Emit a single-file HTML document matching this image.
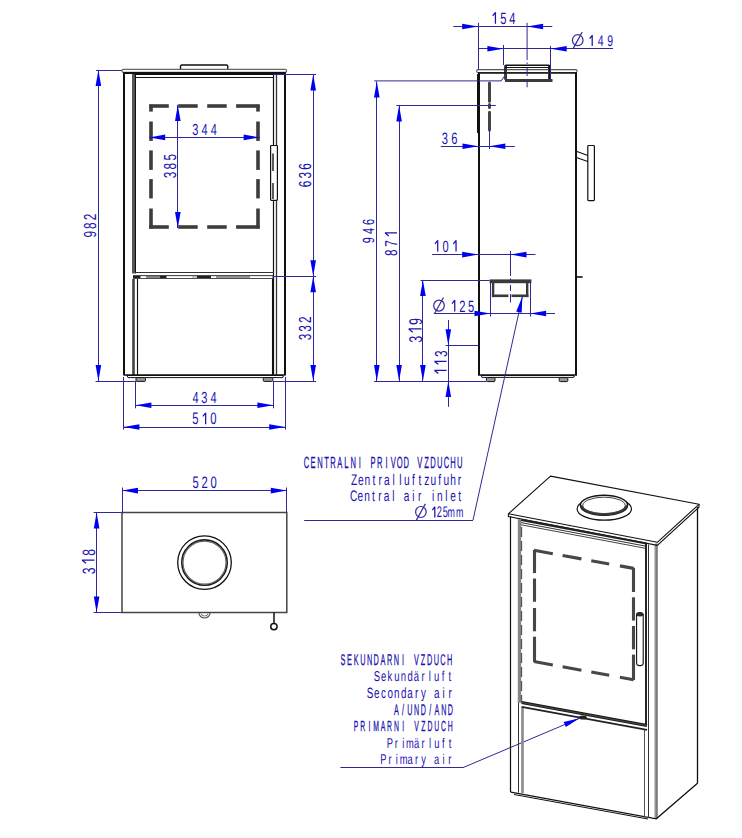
<!DOCTYPE html>
<html><head><meta charset="utf-8"><style>
html,body{margin:0;padding:0;background:#fff;overflow:hidden;width:742px;height:838px;}
svg{display:block;}
text{font-family:"Liberation Sans",sans-serif;}
</style></head><body>
<svg width="742" height="838" viewBox="0 0 742 838">
<rect width="742" height="838" fill="#fff"/>
<path d="M180.5,70.5 L180.5,66.5 Q180.5,65 182,65 L226.3,65 Q227.8,65 227.8,66.5 L227.8,70.5" fill="white" stroke="#111" stroke-width="1.4"/>
<rect x="122" y="69.4" width="164.6" height="3" rx="1.4" fill="white" stroke="#666" stroke-width="1.2"/>
<line x1="123.50" y1="73.00" x2="285.50" y2="73.00" stroke="#111" stroke-width="2" />
<line x1="124.00" y1="72.50" x2="124.00" y2="375.00" stroke="#111" stroke-width="2" />
<line x1="285.00" y1="72.50" x2="285.00" y2="375.00" stroke="#111" stroke-width="2" />
<line x1="133.50" y1="74.00" x2="133.50" y2="273.50" stroke="#555" stroke-width="3.0" />
<line x1="135.50" y1="74.00" x2="135.50" y2="273.50" stroke="#111" stroke-width="1.0" />
<line x1="133.50" y1="279.00" x2="133.50" y2="375.00" stroke="#444" stroke-width="2.6" />
<line x1="134.50" y1="74.00" x2="274.00" y2="74.00" stroke="#111" stroke-width="1.8" />
<line x1="135.50" y1="77.50" x2="273.20" y2="77.50" stroke="#111" stroke-width="1.1" />
<line x1="273.50" y1="74.00" x2="273.50" y2="375.00" stroke="#111" stroke-width="1.2" />
<line x1="276.50" y1="74.00" x2="276.50" y2="375.00" stroke="#333" stroke-width="1.3" />
<line x1="135.00" y1="272.50" x2="274.00" y2="272.50" stroke="#333" stroke-width="1.1" />
<rect x="133" y="275.2" width="140.5" height="3.6" fill="#222"/>
<rect x="140.5" y="276.1" width="5.5" height="1.9" fill="#fff"/>
<rect x="146" y="276.1" width="14" height="1.9" fill="#888"/>
<rect x="166.5" y="276.1" width="25.5" height="1.9" fill="#fff"/>
<rect x="192" y="276.1" width="5" height="1.9" fill="#ccc"/>
<rect x="211" y="276.1" width="5" height="1.9" fill="#fff"/>
<rect x="216" y="276.1" width="34" height="1.9" fill="#999"/>
<rect x="250" y="276.1" width="22.5" height="1.9" fill="#fff"/>
<line x1="137.50" y1="279.00" x2="137.50" y2="375.00" stroke="#111" stroke-width="1.1" />
<line x1="272.50" y1="279.00" x2="272.50" y2="375.00" stroke="#111" stroke-width="1.1" />
<line x1="123.50" y1="375.00" x2="285.50" y2="375.00" stroke="#111" stroke-width="1.6" />
<path d="M127,375.5 L283,375.5 Q284,377.6 282,377.6 L128,377.6 Z" fill="white" stroke="#111" stroke-width="1"/>
<rect x="136" y="377.6" width="9.5" height="3.8" rx="1" fill="#999" stroke="#111" stroke-width="1"/>
<rect x="263.3" y="377.6" width="9.5" height="3.8" rx="1" fill="#999" stroke="#111" stroke-width="1"/>
<rect x="270.6" y="145.5" width="6.8" height="54.8" fill="white" stroke="#111" stroke-width="1.2" rx="0.8"/>
<line x1="273.00" y1="153.50" x2="273.00" y2="171.00" stroke="#333" stroke-width="1.6" />
<line x1="273.00" y1="183.00" x2="273.00" y2="199.00" stroke="#333" stroke-width="1.6" />
<line x1="149.10" y1="106.00" x2="168.80" y2="106.00" stroke="#3c3c3c" stroke-width="3.6" />
<line x1="149.10" y1="227.00" x2="168.80" y2="227.00" stroke="#3c3c3c" stroke-width="3.6" />
<line x1="178.20" y1="106.00" x2="197.70" y2="106.00" stroke="#3c3c3c" stroke-width="3.6" />
<line x1="178.20" y1="227.00" x2="197.70" y2="227.00" stroke="#3c3c3c" stroke-width="3.6" />
<line x1="207.20" y1="106.00" x2="226.70" y2="106.00" stroke="#3c3c3c" stroke-width="3.6" />
<line x1="207.20" y1="227.00" x2="226.70" y2="227.00" stroke="#3c3c3c" stroke-width="3.6" />
<line x1="236.10" y1="106.00" x2="259.60" y2="106.00" stroke="#3c3c3c" stroke-width="3.6" />
<line x1="236.10" y1="227.00" x2="259.60" y2="227.00" stroke="#3c3c3c" stroke-width="3.6" />
<line x1="151.00" y1="104.80" x2="151.00" y2="111.60" stroke="#3c3c3c" stroke-width="3.6" />
<line x1="258.00" y1="104.80" x2="258.00" y2="111.60" stroke="#3c3c3c" stroke-width="3.6" />
<line x1="151.00" y1="121.50" x2="151.00" y2="140.90" stroke="#3c3c3c" stroke-width="3.6" />
<line x1="258.00" y1="121.50" x2="258.00" y2="140.90" stroke="#3c3c3c" stroke-width="3.6" />
<line x1="151.00" y1="150.40" x2="151.00" y2="169.90" stroke="#3c3c3c" stroke-width="3.6" />
<line x1="258.00" y1="150.40" x2="258.00" y2="169.90" stroke="#3c3c3c" stroke-width="3.6" />
<line x1="151.00" y1="179.10" x2="151.00" y2="198.40" stroke="#3c3c3c" stroke-width="3.6" />
<line x1="258.00" y1="179.10" x2="258.00" y2="198.40" stroke="#3c3c3c" stroke-width="3.6" />
<line x1="151.00" y1="208.50" x2="151.00" y2="228.40" stroke="#3c3c3c" stroke-width="3.6" />
<line x1="258.00" y1="208.50" x2="258.00" y2="228.40" stroke="#3c3c3c" stroke-width="3.6" />
<line x1="98.50" y1="70.00" x2="98.50" y2="381.00" stroke="#30289a" stroke-width="1.0" />
<polygon points="98.40,70.00 101.20,86.00 95.60,86.00" fill="#0000f0"/>
<polygon points="98.40,381.00 95.60,365.00 101.20,365.00" fill="#0000f0"/>
<line x1="96.00" y1="70.50" x2="122.00" y2="70.50" stroke="#30289a" stroke-width="1.0" />
<line x1="95.50" y1="381.50" x2="136.00" y2="381.50" stroke="#30289a" stroke-width="1.0" />
<text transform="translate(96.10,236.90) rotate(-90) scale(0.6800,1)" x="-0.78 11.78 24.43" y="0" font-size="17.43" fill="#1a12b0" stroke="#1a12b0" stroke-width="0.00" vector-effect="non-scaling-stroke" text-rendering="geometricPrecision">982</text>
<line x1="313.50" y1="74.60" x2="313.50" y2="381.00" stroke="#30289a" stroke-width="1.0" />
<polygon points="313.20,74.60 316.00,90.60 310.40,90.60" fill="#0000f0"/>
<polygon points="313.20,276.30 310.40,260.30 316.00,260.30" fill="#0000f0"/>
<polygon points="313.20,276.30 316.00,292.30 310.40,292.30" fill="#0000f0"/>
<polygon points="313.20,381.00 310.40,365.00 316.00,365.00" fill="#0000f0"/>
<line x1="273.50" y1="74.50" x2="316.20" y2="74.50" stroke="#30289a" stroke-width="1.0" />
<line x1="273.00" y1="276.50" x2="316.20" y2="276.50" stroke="#30289a" stroke-width="1.0" />
<line x1="273.00" y1="381.50" x2="316.20" y2="381.50" stroke="#30289a" stroke-width="1.0" />
<text transform="translate(311.00,186.60) rotate(-90) scale(0.6800,1)" x="-0.87 12.00 24.70" y="0" font-size="17.43" fill="#1a12b0" stroke="#1a12b0" stroke-width="0.00" vector-effect="non-scaling-stroke" text-rendering="geometricPrecision">636</text>
<text transform="translate(310.90,339.90) rotate(-90) scale(0.6800,1)" x="-0.70 12.09 24.88" y="0" font-size="17.43" fill="#1a12b0" stroke="#1a12b0" stroke-width="0.00" vector-effect="non-scaling-stroke" text-rendering="geometricPrecision">332</text>
<line x1="135.40" y1="405.50" x2="273.40" y2="405.50" stroke="#30289a" stroke-width="1.0" />
<polygon points="135.40,405.30 151.40,402.50 151.40,408.10" fill="#0000f0"/>
<polygon points="273.40,405.30 257.40,408.10 257.40,402.50" fill="#0000f0"/>
<line x1="135.50" y1="381.00" x2="135.50" y2="408.30" stroke="#30289a" stroke-width="1.0" />
<line x1="273.50" y1="381.00" x2="273.50" y2="408.30" stroke="#30289a" stroke-width="1.0" />
<text transform="translate(0,402.60) scale(0.6800,1)" x="282.91 296.11 309.47" y="0" font-size="16.14" fill="#1a12b0" stroke="#1a12b0" stroke-width="0.00" vector-effect="non-scaling-stroke" text-rendering="geometricPrecision">434</text>
<line x1="123.40" y1="427.50" x2="285.20" y2="427.50" stroke="#30289a" stroke-width="1.0" />
<polygon points="123.40,427.00 139.40,424.20 139.40,429.80" fill="#0000f0"/>
<polygon points="285.20,427.00 269.20,429.80 269.20,424.20" fill="#0000f0"/>
<line x1="123.50" y1="377.00" x2="123.50" y2="429.60" stroke="#30289a" stroke-width="1.0" />
<line x1="285.50" y1="377.00" x2="285.50" y2="429.60" stroke="#30289a" stroke-width="1.0" />
<text transform="translate(0,424.30) scale(0.6800,1)" x="282.57 295.72 309.32" y="0" font-size="16.57" fill="#1a12b0" stroke="#1a12b0" stroke-width="0.00" vector-effect="non-scaling-stroke" text-rendering="geometricPrecision">5&#160;0</text>
<path transform="translate(0,424.30)" d="M205.65,0 V-11.60 M202.87,-7.89 L205.65,-11.40 " fill="none" stroke="#1a12b0" stroke-width="1.25" stroke-linejoin="round"/>
<line x1="149.20" y1="137.50" x2="259.60" y2="137.50" stroke="#30289a" stroke-width="1.0" />
<polygon points="149.20,137.40 165.20,134.60 165.20,140.20" fill="#0000f0"/>
<polygon points="259.60,137.40 243.60,140.20 243.60,134.60" fill="#0000f0"/>
<text transform="translate(0,134.90) scale(0.6800,1)" x="282.88 296.44 309.91" y="0" font-size="16.14" fill="#1a12b0" stroke="#1a12b0" stroke-width="0.00" vector-effect="non-scaling-stroke" text-rendering="geometricPrecision">344</text>
<line x1="177.50" y1="104.90" x2="177.50" y2="228.00" stroke="#30289a" stroke-width="1.0" />
<polygon points="177.80,104.90 180.60,120.90 175.00,120.90" fill="#0000f0"/>
<polygon points="177.80,228.00 175.00,212.00 180.60,212.00" fill="#0000f0"/>
<text transform="translate(175.90,177.90) rotate(-90) scale(0.6800,1)" x="-0.70 12.47 25.73" y="0" font-size="17.43" fill="#1a12b0" stroke="#1a12b0" stroke-width="0.00" vector-effect="non-scaling-stroke" text-rendering="geometricPrecision">385</text>
<rect x="476.6" y="69.6" width="100.6" height="2.9" rx="1.4" fill="white" stroke="#555" stroke-width="1.1"/>
<line x1="478.00" y1="73.00" x2="577.00" y2="73.00" stroke="#111" stroke-width="1.6" />
<rect x="505" y="65.2" width="44.6" height="14.6" fill="none" stroke="#111" stroke-width="1.6" rx="1"/>
<line x1="506.50" y1="66.00" x2="506.50" y2="80.00" stroke="#333" stroke-width="1" />
<line x1="548.50" y1="66.00" x2="548.50" y2="80.00" stroke="#333" stroke-width="1" />
<line x1="505.00" y1="67.50" x2="550.00" y2="67.50" stroke="#111" stroke-width="1" />
<line x1="505.00" y1="80.50" x2="552.50" y2="80.50" stroke="#3a3a3a" stroke-width="3" />
<line x1="479.00" y1="72.50" x2="479.00" y2="375.00" stroke="#111" stroke-width="2" />
<line x1="477.50" y1="74.00" x2="477.50" y2="133.00" stroke="#111" stroke-width="1" />
<line x1="576.00" y1="72.50" x2="576.00" y2="375.00" stroke="#111" stroke-width="2" />
<line x1="575.60" y1="277.00" x2="582.60" y2="277.00" stroke="#111" stroke-width="1.6" />
<line x1="478.00" y1="375.00" x2="577.00" y2="375.00" stroke="#111" stroke-width="1.6" />
<path d="M481,375.5 L574,375.5 Q575,377.4 573,377.4 L482,377.4 Z" fill="white" stroke="#111" stroke-width="1"/>
<rect x="486.4" y="377.6" width="8.6" height="4" rx="1" fill="#999" stroke="#111" stroke-width="1"/>
<rect x="559.2" y="377.6" width="8.6" height="4" rx="1" fill="#999" stroke="#111" stroke-width="1"/>
<line x1="489.50" y1="82.90" x2="489.50" y2="101.20" stroke="#444" stroke-width="3" stroke-linecap="round"/>
<line x1="489.50" y1="104.60" x2="489.50" y2="107.40" stroke="#444" stroke-width="3" stroke-linecap="round"/>
<line x1="489.50" y1="112.20" x2="489.50" y2="129.90" stroke="#444" stroke-width="3" stroke-linecap="round"/>
<rect x="587.8" y="145.5" width="6.6" height="55.1" fill="white" stroke="#111" stroke-width="1.2" rx="0.8"/>
<line x1="575.60" y1="151.00" x2="587.80" y2="155.60" stroke="#111" stroke-width="1.1" />
<line x1="575.60" y1="157.20" x2="587.80" y2="161.50" stroke="#111" stroke-width="1.1" />
<rect x="489.6" y="279.4" width="41.8" height="3.8" fill="#3a3a3a"/>
<rect x="491.9" y="283" width="2.4" height="14.1" fill="#3a3a3a"/>
<rect x="526" y="283" width="2.4" height="14.1" fill="#3a3a3a"/>
<rect x="491.9" y="294.5" width="16.5" height="2.6" fill="#3a3a3a"/>
<rect x="511.5" y="294.5" width="16.9" height="2.6" fill="#3a3a3a"/>
<path d="M510.5,250.8 V276 M510.5,278.5 V281 M510.5,285 V291 M510.5,294 V302.5" stroke="#30289a" stroke-width="1" fill="none"/>
<path d="M527.1,22.8 V60 M527.1,62.5 V64 M527.1,68 V76 M527.1,79 V87.3" stroke="#30289a" stroke-width="1" fill="none"/>
<line x1="453.30" y1="26.50" x2="552.30" y2="26.50" stroke="#30289a" stroke-width="1.0" />
<polygon points="478.20,26.50 462.20,29.30 462.20,23.70" fill="#0000f0"/>
<polygon points="527.10,26.50 543.10,23.70 543.10,29.30" fill="#0000f0"/>
<line x1="478.50" y1="22.80" x2="478.50" y2="69.50" stroke="#30289a" stroke-width="1.0" />
<text transform="translate(0,23.70) scale(0.6800,1)" x="721.96 735.57 749.02" y="0" font-size="16.43" fill="#1a12b0" stroke="#1a12b0" stroke-width="0.00" vector-effect="non-scaling-stroke" text-rendering="geometricPrecision">&#160;54</text>
<path transform="translate(0,23.70)" d="M495.44,0 V-11.50 M492.70,-7.82 L495.44,-11.30 " fill="none" stroke="#1a12b0" stroke-width="1.25" stroke-linejoin="round"/>
<line x1="478.20" y1="48.50" x2="613.00" y2="48.50" stroke="#30289a" stroke-width="1.0" />
<polygon points="503.40,48.70 487.40,51.50 487.40,45.90" fill="#0000f0"/>
<polygon points="550.70,48.70 566.70,45.90 566.70,51.50" fill="#0000f0"/>
<line x1="503.50" y1="45.00" x2="503.50" y2="65.00" stroke="#30289a" stroke-width="1.0" />
<line x1="550.50" y1="45.90" x2="550.50" y2="79.00" stroke="#30289a" stroke-width="1.0" />
<ellipse cx="577.75" cy="40.20" rx="5.3" ry="5.5" fill="none" stroke="#30289a" stroke-width="1.2"/>
<line x1="573.29" y1="48.36" x2="582.21" y2="32.04" stroke="#30289a" stroke-width="1.2" />
<text transform="translate(0,45.90) scale(0.6800,1)" x="864.73 879.14 893.16" y="0" font-size="15.43" fill="#1a12b0" stroke="#1a12b0" stroke-width="0.00" vector-effect="non-scaling-stroke" text-rendering="geometricPrecision">&#160;49</text>
<path transform="translate(0,45.90)" d="M592.21,0 V-10.80 M589.70,-7.34 L592.21,-10.60 " fill="none" stroke="#1a12b0" stroke-width="1.25" stroke-linejoin="round"/>
<line x1="376.50" y1="81.50" x2="376.50" y2="381.00" stroke="#30289a" stroke-width="1.0" />
<polygon points="376.80,81.50 379.60,97.50 374.00,97.50" fill="#0000f0"/>
<polygon points="376.80,381.00 374.00,365.00 379.60,365.00" fill="#0000f0"/>
<polyline points="374.2,80.9 501.2,80.9 504,76.5" fill="none" stroke="#30289a" stroke-width="1"/>
<text transform="translate(374.40,242.80) rotate(-90) scale(0.6800,1)" x="-0.73 12.81 26.10" y="0" font-size="16.14" fill="#1a12b0" stroke="#1a12b0" stroke-width="0.00" vector-effect="non-scaling-stroke" text-rendering="geometricPrecision">946</text>
<line x1="399.50" y1="105.40" x2="399.50" y2="381.00" stroke="#30289a" stroke-width="1.0" />
<polygon points="399.10,105.40 401.90,121.40 396.30,121.40" fill="#0000f0"/>
<polygon points="399.10,381.00 396.30,365.00 401.90,365.00" fill="#0000f0"/>
<line x1="396.40" y1="105.50" x2="495.80" y2="105.50" stroke="#30289a" stroke-width="1.0" />
<text transform="translate(397.00,255.60) rotate(-90) scale(0.6800,1)" x="-0.78 12.90 26.27" y="0" font-size="17.29" fill="#1a12b0" stroke="#1a12b0" stroke-width="0.00" vector-effect="non-scaling-stroke" text-rendering="geometricPrecision">87&#160;</text>
<path transform="translate(397.00,255.60) rotate(-90)" d="M22.65,0 V-12.10 M19.71,-8.23 L22.65,-11.90 " fill="none" stroke="#1a12b0" stroke-width="1.25" stroke-linejoin="round"/>
<line x1="440.80" y1="146.50" x2="514.90" y2="146.50" stroke="#30289a" stroke-width="1.0" />
<polygon points="478.50,146.20 462.50,149.00 462.50,143.40" fill="#0000f0"/>
<polygon points="489.30,146.20 505.30,143.40 505.30,149.00" fill="#0000f0"/>
<line x1="489.50" y1="130.20" x2="489.50" y2="149.00" stroke="#30289a" stroke-width="1.0" />
<text transform="translate(0,143.80) scale(0.6800,1)" x="649.49 663.60" y="0" font-size="16.43" fill="#1a12b0" stroke="#1a12b0" stroke-width="0.00" vector-effect="non-scaling-stroke" text-rendering="geometricPrecision">36</text>
<line x1="432.10" y1="254.50" x2="535.50" y2="254.50" stroke="#30289a" stroke-width="1.0" />
<polygon points="478.20,254.60 462.20,257.40 462.20,251.80" fill="#0000f0"/>
<polygon points="510.50,254.60 526.50,251.80 526.50,257.40" fill="#0000f0"/>
<text transform="translate(0,251.60) scale(0.6800,1)" x="637.12 650.81 664.09" y="0" font-size="16.29" fill="#1a12b0" stroke="#1a12b0" stroke-width="0.00" vector-effect="non-scaling-stroke" text-rendering="geometricPrecision">&#160;0&#160;</text>
<path transform="translate(0,251.60)" d="M437.71,0 V-11.40 M435.00,-7.75 L437.71,-11.20 M456.05,0 V-11.40 M453.34,-7.75 L456.05,-11.20 " fill="none" stroke="#1a12b0" stroke-width="1.25" stroke-linejoin="round"/>
<line x1="422.50" y1="280.10" x2="422.50" y2="381.00" stroke="#30289a" stroke-width="1.0" />
<polygon points="422.90,280.10 425.70,296.10 420.10,296.10" fill="#0000f0"/>
<polygon points="422.90,381.00 420.10,365.00 425.70,365.00" fill="#0000f0"/>
<line x1="420.50" y1="280.50" x2="489.50" y2="280.50" stroke="#30289a" stroke-width="1.0" />
<text transform="translate(421.50,342.30) rotate(-90) scale(0.6800,1)" x="-0.74 12.01 25.31" y="0" font-size="18.43" fill="#1a12b0" stroke="#1a12b0" stroke-width="0.00" vector-effect="non-scaling-stroke" text-rendering="geometricPrecision">3&#160;9</text>
<path transform="translate(421.50,342.30) rotate(-90)" d="M13.31,0 V-12.90 M10.10,-8.77 L13.31,-12.70 " fill="none" stroke="#1a12b0" stroke-width="1.25" stroke-linejoin="round"/>
<line x1="433.70" y1="313.50" x2="555.00" y2="313.50" stroke="#30289a" stroke-width="1.0" />
<polygon points="490.50,313.50 474.50,316.30 474.50,310.70" fill="#0000f0"/>
<polygon points="530.10,313.50 546.10,310.70 546.10,316.30" fill="#0000f0"/>
<line x1="490.50" y1="283.00" x2="490.50" y2="316.50" stroke="#30289a" stroke-width="1.0" />
<line x1="530.50" y1="283.00" x2="530.50" y2="316.50" stroke="#30289a" stroke-width="1.0" />
<ellipse cx="439.00" cy="305.60" rx="5.3" ry="5.5" fill="none" stroke="#30289a" stroke-width="1.2"/>
<line x1="434.54" y1="313.76" x2="443.46" y2="297.44" stroke="#30289a" stroke-width="1.2" />
<text transform="translate(0,311.50) scale(0.6800,1)" x="662.10 675.33 688.30" y="0" font-size="16.43" fill="#1a12b0" stroke="#1a12b0" stroke-width="0.00" vector-effect="non-scaling-stroke" text-rendering="geometricPrecision">&#160;25</text>
<path transform="translate(0,311.50)" d="M454.75,0 V-11.50 M452.00,-7.82 L454.75,-11.30 " fill="none" stroke="#1a12b0" stroke-width="1.25" stroke-linejoin="round"/>
<line x1="448.50" y1="320.00" x2="448.50" y2="406.80" stroke="#30289a" stroke-width="1.0" />
<polygon points="448.30,345.20 445.50,329.20 451.10,329.20" fill="#0000f0"/>
<polygon points="448.30,381.00 451.10,397.00 445.50,397.00" fill="#0000f0"/>
<line x1="445.60" y1="345.50" x2="478.00" y2="345.50" stroke="#30289a" stroke-width="1.0" />
<text transform="translate(446.60,373.80) rotate(-90) scale(0.6800,1)" x="-2.14 11.15 24.70" y="0" font-size="17.43" fill="#1a12b0" stroke="#1a12b0" stroke-width="0.00" vector-effect="non-scaling-stroke" text-rendering="geometricPrecision">&#160;&#160;3</text>
<path transform="translate(446.60,373.80) rotate(-90)" d="M3.38,0 V-12.20 M0.40,-8.30 L3.38,-12.00 M12.41,0 V-12.20 M9.44,-8.30 L12.41,-12.00 " fill="none" stroke="#1a12b0" stroke-width="1.25" stroke-linejoin="round"/>
<line x1="374.00" y1="381.50" x2="486.50" y2="381.50" stroke="#30289a" stroke-width="1.0" />
<rect x="122" y="512.5" width="164.8" height="100" fill="white" stroke="#444" stroke-width="1.5"/>
<circle cx="204.5" cy="562.6" r="26.8" fill="none" stroke="#111" stroke-width="1.3"/>
<circle cx="204.5" cy="562.6" r="22.7" fill="none" stroke="#1a1a1a" stroke-width="1.6"/>
<circle cx="204.5" cy="562.6" r="21.5" fill="none" stroke="#666" stroke-width="1.2"/>
<path d="M199,613 A5.5,5 0 0 0 210,613" fill="none" stroke="#555" stroke-width="1.2"/>
<path d="M201,613.5 A3.5,2.5 0 0 0 208,613.5" fill="none" stroke="#777" stroke-width="1"/>
<line x1="274.00" y1="612.50" x2="274.00" y2="623.40" stroke="#111" stroke-width="1.5" />
<circle cx="273.9" cy="626.6" r="3.2" fill="white" stroke="#111" stroke-width="1.5"/>
<line x1="122.00" y1="490.50" x2="286.80" y2="490.50" stroke="#30289a" stroke-width="1.0" />
<polygon points="122.00,490.60 138.00,487.80 138.00,493.40" fill="#0000f0"/>
<polygon points="286.80,490.60 270.80,493.40 270.80,487.80" fill="#0000f0"/>
<line x1="122.50" y1="487.50" x2="122.50" y2="512.50" stroke="#30289a" stroke-width="1.0" />
<line x1="286.50" y1="487.50" x2="286.50" y2="512.50" stroke="#30289a" stroke-width="1.0" />
<text transform="translate(0,488.10) scale(0.6800,1)" x="283.16 296.41 309.62" y="0" font-size="16.57" fill="#1a12b0" stroke="#1a12b0" stroke-width="0.00" vector-effect="non-scaling-stroke" text-rendering="geometricPrecision">520</text>
<line x1="96.50" y1="512.50" x2="96.50" y2="612.50" stroke="#30289a" stroke-width="1.0" />
<polygon points="96.60,512.50 99.40,528.50 93.80,528.50" fill="#0000f0"/>
<polygon points="96.60,612.50 93.80,596.50 99.40,596.50" fill="#0000f0"/>
<line x1="93.60" y1="512.50" x2="122.00" y2="512.50" stroke="#30289a" stroke-width="1.0" />
<line x1="93.60" y1="612.50" x2="122.00" y2="612.50" stroke="#30289a" stroke-width="1.0" />
<text transform="translate(94.50,573.80) rotate(-90) scale(0.6800,1)" x="-0.71 12.67 26.54" y="0" font-size="17.86" fill="#1a12b0" stroke="#1a12b0" stroke-width="0.00" vector-effect="non-scaling-stroke" text-rendering="geometricPrecision">3&#160;8</text>
<path transform="translate(94.50,573.80) rotate(-90)" d="M13.58,0 V-12.50 M10.50,-8.50 L13.58,-12.30 " fill="none" stroke="#1a12b0" stroke-width="1.25" stroke-linejoin="round"/>
<text transform="translate(0,467.80) scale(0.4700,1)" x="646.43 660.83 674.88 689.93 702.93 717.82 732.47 745.71 763.46 777.43 788.40 802.09 820.13 831.14 844.42 858.75 876.59 887.80 902.41 915.41 929.86 943.90 958.19 972.35" y="0" font-size="16.14" fill="#1a12b0" stroke="#1a12b0" stroke-width="0.30" vector-effect="non-scaling-stroke" text-rendering="geometricPrecision">CENTRALNI&#160;PRIVOD&#160;VZDUCHU</text>
<text transform="translate(0,484.80) scale(0.6600,1)" x="531.81 542.27 552.22 564.30 573.56 581.89 594.78 604.77 612.17 624.18 634.25 642.65 652.15 664.15 672.13 682.08 693.47" y="0" font-size="15.45" fill="#1a12b0" stroke="#1a12b0" stroke-width="0.00" vector-effect="non-scaling-stroke" text-rendering="geometricPrecision">Zentralluftzufuhr</text>
<text transform="translate(0,501.20) scale(0.6600,1)" x="530.30 541.74 551.73 563.82 573.13 581.51 594.41 603.83 611.60 624.50 633.30 643.95 654.59 662.06 674.65 682.15 694.21" y="0" font-size="15.28" fill="#1a12b0" stroke="#1a12b0" stroke-width="0.00" vector-effect="non-scaling-stroke" text-rendering="geometricPrecision">Central&#160;air&#160;inlet</text>
<ellipse cx="420.90" cy="512.00" rx="5.3" ry="5.5" fill="none" stroke="#30289a" stroke-width="1.2"/>
<line x1="416.44" y1="520.16" x2="425.36" y2="503.84" stroke="#30289a" stroke-width="1.2" />
<text transform="translate(0,517.40) scale(0.6000,1)" x="718.29 728.12 737.72" y="0" font-size="15.43" fill="#1a12b0" stroke="#1a12b0" stroke-width="0.00" vector-effect="non-scaling-stroke" text-rendering="geometricPrecision">&#160;25</text>
<path transform="translate(0,517.40)" d="M434.81,0 V-10.80 M432.30,-7.34 L434.81,-10.60 " fill="none" stroke="#1a12b0" stroke-width="1.25" stroke-linejoin="round"/>
<text transform="translate(0,517.40) scale(0.6200,1)" x="721.97 735.57" y="0" font-size="14.34" fill="#1a12b0" stroke="#1a12b0" stroke-width="0.00" vector-effect="non-scaling-stroke" text-rendering="geometricPrecision">mm</text>
<line x1="304.20" y1="520.50" x2="473.00" y2="520.50" stroke="#30289a" stroke-width="1.0" />
<line x1="473.00" y1="520.10" x2="522.40" y2="296.60" stroke="#30289a" stroke-width="1.0" />
<polygon points="522.40,296.60 521.68,312.83 516.21,311.62" fill="#0000f0"/>
<text transform="translate(0,664.80) scale(0.4700,1)" x="724.62 738.49 752.44 766.74 780.92 794.83 809.71 823.19 837.64 855.29 869.28 880.62 895.23 908.28 922.73 936.80 951.10" y="0" font-size="15.57" fill="#1a12b0" stroke="#1a12b0" stroke-width="0.30" vector-effect="non-scaling-stroke" text-rendering="geometricPrecision">SEKUNDARNI&#160;VZDUCH</text>
<text transform="translate(0,681.10) scale(0.6600,1)" x="566.32 577.19 587.11 597.22 607.26 617.47 627.04 638.62 649.81 657.44 669.34 679.45" y="0" font-size="14.38" fill="#1a12b0" stroke="#1a12b0" stroke-width="0.00" vector-effect="non-scaling-stroke" text-rendering="geometricPrecision">Sekundärluft</text>
<text transform="translate(0,698.20) scale(0.6600,1)" x="555.84 566.82 577.20 587.02 597.14 607.44 617.07 628.80 637.98 649.63 657.55 670.46 679.39" y="0" font-size="14.93" fill="#1a12b0" stroke="#1a12b0" stroke-width="0.00" vector-effect="non-scaling-stroke" text-rendering="geometricPrecision">Secondary&#160;air</text>
<text transform="translate(0,714.50) scale(0.4700,1)" x="838.09 855.46 866.53 880.97 895.14 913.20 924.69 938.71 952.87" y="0" font-size="15.29" fill="#1a12b0" stroke="#1a12b0" stroke-width="0.30" vector-effect="non-scaling-stroke" text-rendering="geometricPrecision">A/UND/AND</text>
<text transform="translate(0,730.90) scale(0.4700,1)" x="752.45 766.32 784.13 794.39 809.90 823.56 838.12 855.67 869.80 881.45 896.16 909.41 923.97 938.17 952.59" y="0" font-size="14.57" fill="#1a12b0" stroke="#1a12b0" stroke-width="0.30" vector-effect="non-scaling-stroke" text-rendering="geometricPrecision">PRIMARNI&#160;VZDUCH</text>
<text transform="translate(0,747.80) scale(0.6600,1)" x="585.84 598.20 609.47 615.27 627.10 638.75 650.02 657.80 669.77 679.98" y="0" font-size="14.11" fill="#1a12b0" stroke="#1a12b0" stroke-width="0.00" vector-effect="non-scaling-stroke" text-rendering="geometricPrecision">Primärluft</text>
<text transform="translate(0,764.10) scale(0.6600,1)" x="576.29 588.60 599.81 605.55 617.32 628.93 638.12 649.65 657.65 670.38 679.33" y="0" font-size="14.14" fill="#1a12b0" stroke="#1a12b0" stroke-width="0.00" vector-effect="non-scaling-stroke" text-rendering="geometricPrecision">Primary&#160;air</text>
<line x1="340.40" y1="767.50" x2="463.00" y2="767.50" stroke="#30289a" stroke-width="1.0" />
<line x1="463.00" y1="767.60" x2="579.50" y2="718.30" stroke="#30289a" stroke-width="1.0" />
<polygon points="579.50,718.30 565.86,727.11 563.67,721.96" fill="#0000f0"/>
<line x1="510.50" y1="516.00" x2="510.50" y2="792.30" stroke="#111" stroke-width="1.2" />
<line x1="697.50" y1="507.00" x2="697.50" y2="783.80" stroke="#111" stroke-width="1.3" />
<line x1="656.50" y1="543.50" x2="656.50" y2="818.60" stroke="#7a7a7a" stroke-width="2.6" />
<line x1="654.50" y1="545.00" x2="654.50" y2="818.00" stroke="#bbb" stroke-width="0.8" />
<polyline points="510.8,792.2 656.3,818.8 697.2,783.6" fill="none" stroke="#111" stroke-width="1.3"/>
<line x1="514.00" y1="794.50" x2="648.00" y2="819.00" stroke="#111" stroke-width="1" />
<polygon points="550.5,476.1 699,504.3 657.3,542.3 508.4,513.8" fill="white" stroke="#111" stroke-width="1.1" stroke-linejoin="round"/>
<polyline points="508.4,513.8 508.4,516.6 657.3,545.3 699,507.2 699,504.3" fill="none" stroke="#111" stroke-width="1.1"/>
<ellipse cx="604.3" cy="508.9" rx="27.2" ry="11.3" fill="white" stroke="#111" stroke-width="1.2"/>
<ellipse cx="604" cy="505.3" rx="23.6" ry="10" fill="white" stroke="#111" stroke-width="1.4"/>
<path d="M581.5,505.3 A22.5,9.1 0 0 0 626.5,505.3" fill="none" stroke="#333" stroke-width="2.4"/>
<ellipse cx="604" cy="505.4" rx="21.2" ry="8.2" fill="none" stroke="#444" stroke-width="1.0"/>
<line x1="519.50" y1="519.00" x2="519.50" y2="703.00" stroke="#888" stroke-width="3.4" />
<line x1="518.50" y1="703.00" x2="518.50" y2="792.50" stroke="#333" stroke-width="1.0" />
<line x1="522.50" y1="707.00" x2="522.50" y2="793.00" stroke="#8a8a8a" stroke-width="2.6" />
<line x1="521.50" y1="527.00" x2="521.50" y2="702.00" stroke="#555" stroke-width="1.3" stroke-dasharray="10 4"/>
<line x1="521.00" y1="519.80" x2="646.50" y2="543.50" stroke="#222" stroke-width="2.2" />
<line x1="521.00" y1="522.60" x2="646.50" y2="546.30" stroke="#333" stroke-width="1.0" />
<line x1="521.00" y1="524.80" x2="646.50" y2="548.50" stroke="#444" stroke-width="1.0" />
<line x1="646.00" y1="543.50" x2="646.00" y2="724.50" stroke="#1a1a1a" stroke-width="1.9" />
<line x1="648.50" y1="544.50" x2="648.50" y2="818.00" stroke="#333" stroke-width="1.0" />
<line x1="644.50" y1="729.00" x2="644.50" y2="818.00" stroke="#555" stroke-width="1.0" />
<line x1="521.60" y1="702.60" x2="647.00" y2="725.60" stroke="#1a1a1a" stroke-width="3.0" />
<line x1="521.60" y1="702.60" x2="647.00" y2="725.60" stroke="#777" stroke-width="0.5" />
<line x1="521.60" y1="706.90" x2="647.00" y2="729.90" stroke="#222" stroke-width="1.8" />
<ellipse cx="582.9" cy="717.5" rx="4" ry="2" fill="#222"/>
<line x1="534.00" y1="550.25" x2="552.80" y2="553.66" stroke="#474747" stroke-width="3.1" />
<line x1="534.00" y1="661.55" x2="552.80" y2="664.96" stroke="#474747" stroke-width="3.1" />
<line x1="562.60" y1="555.45" x2="581.40" y2="558.86" stroke="#474747" stroke-width="3.1" />
<line x1="562.60" y1="666.75" x2="581.40" y2="670.16" stroke="#474747" stroke-width="3.1" />
<line x1="591.30" y1="560.66" x2="609.20" y2="563.92" stroke="#474747" stroke-width="3.1" />
<line x1="591.30" y1="671.96" x2="609.20" y2="675.22" stroke="#474747" stroke-width="3.1" />
<line x1="619.90" y1="565.86" x2="633.60" y2="568.35" stroke="#474747" stroke-width="3.1" />
<line x1="619.90" y1="677.16" x2="633.60" y2="679.65" stroke="#474747" stroke-width="3.1" />
<line x1="534.50" y1="549.90" x2="534.50" y2="573.10" stroke="#474747" stroke-width="3.1" />
<line x1="534.50" y1="578.50" x2="534.50" y2="601.80" stroke="#474747" stroke-width="3.1" />
<line x1="534.50" y1="608.00" x2="534.50" y2="631.30" stroke="#474747" stroke-width="3.1" />
<line x1="534.50" y1="636.70" x2="534.50" y2="661.90" stroke="#474747" stroke-width="3.1" />
<line x1="633.50" y1="567.80" x2="633.50" y2="592.00" stroke="#474747" stroke-width="3.1" />
<line x1="633.50" y1="597.30" x2="633.50" y2="620.60" stroke="#474747" stroke-width="3.1" />
<line x1="633.50" y1="626.00" x2="633.50" y2="649.30" stroke="#474747" stroke-width="3.1" />
<line x1="633.50" y1="654.60" x2="633.50" y2="680.00" stroke="#474747" stroke-width="3.1" />
<rect x="636.6" y="612.8" width="6.6" height="52.8" rx="2.5" fill="white" stroke="#111" stroke-width="1.1"/>
<ellipse cx="639.9" cy="614.4" rx="3.3" ry="1.7" fill="#333" stroke="#111" stroke-width="0.8"/>
</svg>
</body></html>
